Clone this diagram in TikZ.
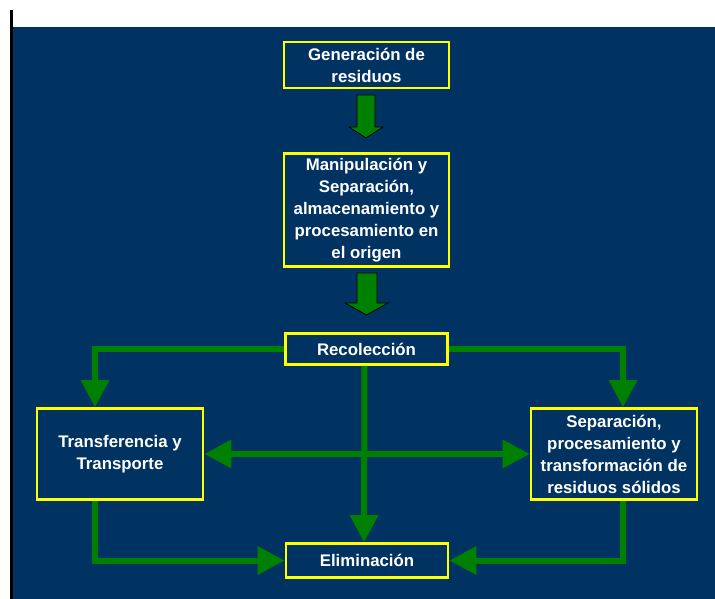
\documentclass[tikz,border=0pt]{standalone}
\usepackage{fontspec}
\setmainfont{Liberation Sans}
\usetikzlibrary{arrows.meta}
\definecolor{navy}{RGB}{0,50,98}
\definecolor{dgreen}{RGB}{0,128,0}
\definecolor{ybox}{RGB}{255,255,0}
\tikzset{
  stagebox/.style={draw=ybox, line width=2.6pt, fill=navy, text=white,
    font=\fontsize{16.8}{22}\selectfont\bfseries, align=center, inner sep=0pt},
  flow/.style={draw=dgreen, line width=6pt, line join=miter,
    -{Triangle[length=27pt,width=27pt]}},
  blockarrow/.style={fill=dgreen, draw=black, line width=0.8pt}
}
\begin{document}
\begin{tikzpicture}[x=1pt,y=-1pt]
\useasboundingbox (0,0) rectangle (715,599);
\fill[white] (0,0) rectangle (715,599);
\fill[navy] (12,27) rectangle (715,599);
\fill[black] (10,10) rectangle (13,599);

\node[stagebox, minimum width=165pt, minimum height=46pt] (gen) at (366.5,65) {Generación de\\residuos};
\node[stagebox, minimum width=165pt, minimum height=113pt] (man) at (366.5,210) {Manipulación y\\Separación,\\almacenamiento y\\procesamiento en\\el origen};
\node[stagebox, minimum width=162pt, minimum height=31pt] (rec) at (366.5,349) {Recolección};
\node[stagebox, minimum width=166pt, minimum height=91pt] (tra) at (120,454) {Transferencia y\\Transporte};
\node[stagebox, minimum width=166pt, minimum height=91pt] (sep) at (614,454) {Separación,\\procesamiento y\\transformación de\\residuos sólidos};
\node[stagebox, minimum width=162pt, minimum height=34pt] (eli) at (367,560.5) {Eliminación};

% block arrows
\draw[blockarrow] (357,95) -- (375,95) -- (375,127) -- (383,127) -- (366,138) -- (349,127) -- (357,127) -- cycle;
\draw[blockarrow] (357,273) -- (377,273) -- (377,303) -- (388,303) -- (366.5,315) -- (345,303) -- (357,303) -- cycle;

% connectors
\coordinate (trin) at ([xshift=-25pt]tra.north);
\coordinate (trout) at ([xshift=-25pt]tra.south);
\coordinate (sein) at ([xshift=9pt]sep.north);
\coordinate (seout) at ([xshift=9pt]sep.south);
\draw[flow] (rec.west) -| (trin);
\draw[flow] (rec.east) -| (sein);
\draw[flow] ([xshift=-2pt]rec.south) -- ([xshift=-3pt]eli.north);
\draw[flow, {Triangle[length=27pt,width=27pt]}-{Triangle[length=27pt,width=27pt]}] (tra.east) -- (sep.west);
\draw[flow] (trout) |- (eli.west);
\draw[flow] (seout) |- (eli.east);
\end{tikzpicture}
\end{document}
